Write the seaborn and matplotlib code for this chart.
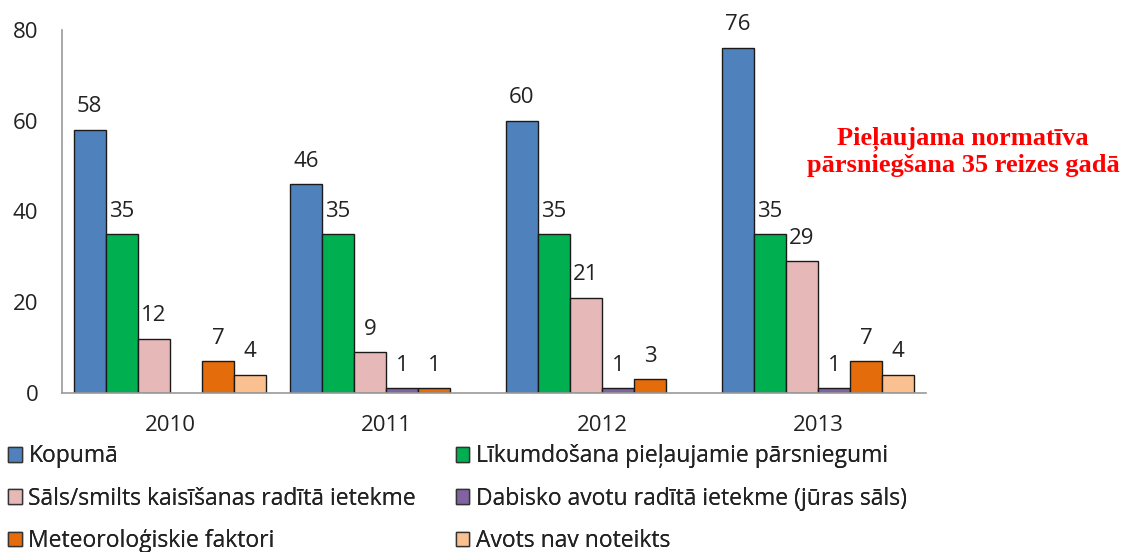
import pandas as pd
import seaborn as sns
import matplotlib.pyplot as plt
from matplotlib.patches import Patch

# values (None = no bar shown)
years = ['2010', '2011', '2012', '2013']
series = [
    'Kopumā',
    'Līkumdošana pieļaujamie pārsniegumi',
    'Sāls/smilts kaisīšanas radītā ietekme',
    'Dabisko avotu radītā ietekme (jūras sāls)',
    'Meteoroloģiskie faktori',
    'Avots nav noteikts',
]
kopuma = [58, 46, 60, 76]
likumdosana = [35, 35, 35, 35]
sals_smilts = [12, 9, 21, 29]
dabisko_avotu = [None, 1, 1, 1]
meteo = [7, 1, 3, 7]
avots_nav = [4, None, None, 4]
colors = ['#4F81BD', '#00B050', '#E6B9B8', '#8064A2', '#E46C0A', '#FAC090']
note = 'Pieļaujama normatīva\npārsniegšana 35 reizes gadā'


def build_table():
    rows = []
    for name, vals in zip(series, [kopuma, likumdosana, sals_smilts, dabisko_avotu, meteo, avots_nav]):
        for year, v in zip(years, vals):
            if v is not None:
                rows.append({'Gads': year, 'Avots': name, 'Skaits': v})
    return pd.DataFrame(rows)


def main():
    sns.set_style('white')
    plt.rcParams['font.family'] = ['Open Sans', 'DejaVu Sans']
    fs = 16
    fs_leg = 16.5

    df = build_table()
    fig = plt.figure(figsize=(11.25, 5.52), dpi=100)
    ax = fig.add_axes([0.055, 0.288, 0.768, 0.658])

    sns.barplot(data=df, x='Gads', y='Skaits', hue='Avots', order=years, hue_order=series,
                palette=colors, width=0.89, gap=0, edgecolor='#1a1a1a', linewidth=1.0,
                saturation=1, legend=False, ax=ax)

    for cont in ax.containers:
        ax.bar_label(cont, padding=9, fontsize=fs, color='#222222')

    ax.set_ylim(0, 80)
    ax.set_xlim(-0.5, 3.5)
    ax.set_yticks([0, 20, 40, 60, 80])
    ax.set_xlabel('')
    ax.set_ylabel('')
    ax.tick_params(axis='both', length=0, labelsize=fs, colors='#222222')
    ax.tick_params(axis='y', pad=17)
    ax.tick_params(axis='x', pad=16)
    for side in ['top', 'right']:
        ax.spines[side].set_visible(False)
    for side in ['left', 'bottom']:
        ax.spines[side].set_color('#9a9a9a')
        ax.spines[side].set_linewidth(1.2)

    fig.text(0.856, 0.725, note, ha='center', va='center', color='#FF0000',
             fontsize=19, fontweight='bold', family=['Liberation Serif'], linespacing=1.2)

    # legend in two columns under the chart
    handles = [Patch(facecolor=c, edgecolor='#333333', linewidth=1.0) for c in colors]
    for col, x in enumerate([0.007, 0.405]):
        idx = [col, col + 2, col + 4]
        leg = fig.legend([handles[i] for i in idx], [series[i] for i in idx],
                         loc='upper left', bbox_to_anchor=(x, 0.195), frameon=False,
                         fontsize=fs_leg, handlelength=0.6, handleheight=0.6,
                         handletextpad=0.3, labelspacing=0.8, borderaxespad=0,
                         borderpad=0)
        for t in leg.get_texts():
            t.set_color('#222222')
        fig.add_artist(leg)

    fig.savefig('out.png', dpi=100)


if __name__ == '__main__':
    main()
